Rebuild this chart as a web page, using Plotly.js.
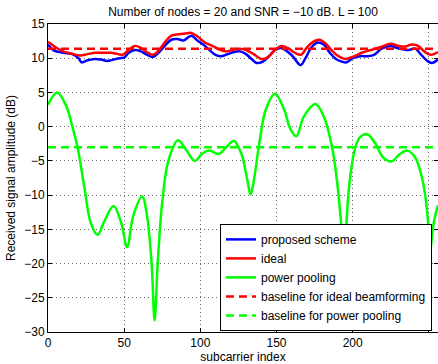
<!DOCTYPE html>
<html>
<head>
<meta charset="utf-8">
<script src="https://cdn.plot.ly/plotly-3.0.1.min.js"></script>
<style>html,body{margin:0;padding:0;background:#fff;}#chart{width:438px;height:364px;}</style>
</head>
<body>
<div id="chart"></div>
<script>
// Subcarrier indices and values (dB)
const proposedX = [0,4,10,16,20,22,26,31,35,39,43,47,50,53,57,61,65,69,73,77,81,85,89,94,98,103,106,110,114,118,122,126,130,134,137,141,145,149,153,157,161,164,166,169,173,177,181,185,189,193,196,200,205,210,214,219,225,229,233,237,241,245,249,252,256];
const proposedY = [12.0,11.1,10.8,10.6,10.0,9.4,9.7,9.9,9.8,9.6,9.8,10.0,10.1,10.8,11.2,11.0,10.5,10.2,10.9,11.9,12.7,12.8,12.6,13.3,12.6,11.8,11.2,10.5,10.3,10.6,10.9,11.0,10.6,9.8,9.3,9.5,10.3,11.2,11.5,11.0,10.2,9.3,9.0,10.0,11.6,12.3,12.0,10.8,9.9,9.5,9.4,10.0,10.3,10.3,10.5,11.4,11.8,11.5,11.3,11.2,11.4,10.5,9.6,9.3,9.8];

const idealX = [0,5,10,15,21,26,31,36,41,46,49,53,57,61,65,69,73,77,81,86,90,94,98,103,108,112,117,121,126,130,135,140,144,149,153,158,162,166,170,174,178,182,186,190,195,200,206,212,218,225,230,234,239,243,247,251,256];
const idealY = [12.4,11.6,11.0,10.7,10.4,10.6,10.8,10.8,10.8,10.6,10.5,11.2,11.8,11.5,10.9,10.5,11.2,12.4,13.3,13.5,13.6,13.7,13.2,12.3,11.8,11.3,11.0,11.2,11.4,11.2,10.6,9.9,10.1,11.2,11.8,11.4,10.8,10.5,11.6,12.4,12.7,12.2,11.2,10.4,9.9,10.2,10.8,11.2,11.6,12.1,11.8,11.7,12.0,11.8,11.0,10.5,10.9];

const poolingX = [0,6,12,16,19.4,24,28,32.5,37,43,48,51.9,56,61.8,65,68,70,72,75,79,85.3,91,96.3,101,106,112,117,122,127,131,133,135,139,143,149,155,159,163,168,175.5,181,186.5,190,192.9,194,195.5,198,201.8,205,209.6,215,220,225.4,231,236,241,245,247.6,249.5,251,252.5,254.2,256];
const poolingY = [3.2,5.0,3.0,0,-3,-9,-14,-15.8,-13.8,-11.6,-14,-17.6,-13,-10.2,-13,-20,-28.3,-20,-11,-5,-2.0,-3.5,-5.0,-4,-3.5,-4.0,-3,-2.1,-4,-8,-9.9,-8,-2,2.5,4.8,2.5,-0.3,-1.4,1.5,3.3,1.5,-3,-8.5,-15.4,-19,-15.4,-8,-3,-1.5,-1.1,-2.5,-4.5,-5.1,-4,-3.5,-4.5,-7,-10,-14,-18,-15,-13,-11.5];

const baselineX = [0, 256];
const baselineIdeal = [11.4, 11.4];
const baselinePooling = [-3, -3];

const xTicks = [0,50,100,150,200,250];
const yTicks = [-30,-25,-20,-15,-10,-5,0,5,10,15];

const seriesNames = ['proposed scheme','ideal','power pooling','baseline for ideal beamforming','baseline for power pooling'];

const FONT = 'Liberation Sans, Arial, Helvetica, sans-serif';
const LW = 2.5;

const traces = [
  {x: proposedX, y: proposedY, name: seriesNames[0], mode: 'lines', line: {color: '#0000ff', width: LW, shape: 'spline', smoothing: 1}},
  {x: idealX, y: idealY, name: seriesNames[1], mode: 'lines', line: {color: '#ff0000', width: LW, shape: 'spline', smoothing: 1}},
  {x: poolingX, y: poolingY, name: seriesNames[2], mode: 'lines', line: {color: '#00ff00', width: LW, shape: 'spline', smoothing: 1}},
  {x: baselineX, y: baselineIdeal, name: seriesNames[3], mode: 'lines', line: {color: '#ff0000', width: LW, dash: '8px,5px'}},
  {x: baselineX, y: baselinePooling, name: seriesNames[4], mode: 'lines', line: {color: '#00ff00', width: LW, dash: '8px,5px'}}
];

const axisCommon = {
  showline: true, linecolor: '#000', linewidth: 1, mirror: 'ticks',
  ticks: 'inside', ticklen: 4, tickcolor: '#000', tickwidth: 1,
  showgrid: true, gridcolor: '#666', gridwidth: 1, griddash: '1px,3px',
  zeroline: false, tickfont: {family: FONT, size: 12, color: '#000'}
};

const layout = {
  width: 438, height: 364,
  margin: {l: 48, r: 0, t: 24, b: 32},
  paper_bgcolor: '#fff', plot_bgcolor: '#fff',
  font: {family: FONT, size: 12, color: '#000'},
  title: {text: 'Number of nodes = 20 and SNR = \u221210 dB. L = 100', font: {family: FONT, size: 12, color: '#000'},
          x: 0.5, xref: 'paper', xanchor: 'center', y: 1 - 12/364, yref: 'container', yanchor: 'middle'},
  xaxis: Object.assign({}, axisCommon, {range: [0, 256], tickvals: xTicks, ticktext: xTicks.map(String),
          title: {text: 'subcarrier index', font: {family: FONT, size: 12, color: '#000'}, standoff: 2}}),
  yaxis: Object.assign({}, axisCommon, {range: [-30, 15], tickvals: yTicks,
          title: {text: 'Received signal amplitude (dB)', font: {family: FONT, size: 12, color: '#000'}, standoff: 6}}),
  showlegend: true,
  legend: {x: 0.441, y: 0.351, xanchor: 'left', yanchor: 'top', bgcolor: '#fff', bordercolor: '#000', borderwidth: 1,
           font: {family: FONT, size: 12, color: '#000'}, tracegroupgap: 0}
};

Plotly.newPlot('chart', traces, layout, {staticPlot: true, displayModeBar: false});
</script>
</body>
</html>
